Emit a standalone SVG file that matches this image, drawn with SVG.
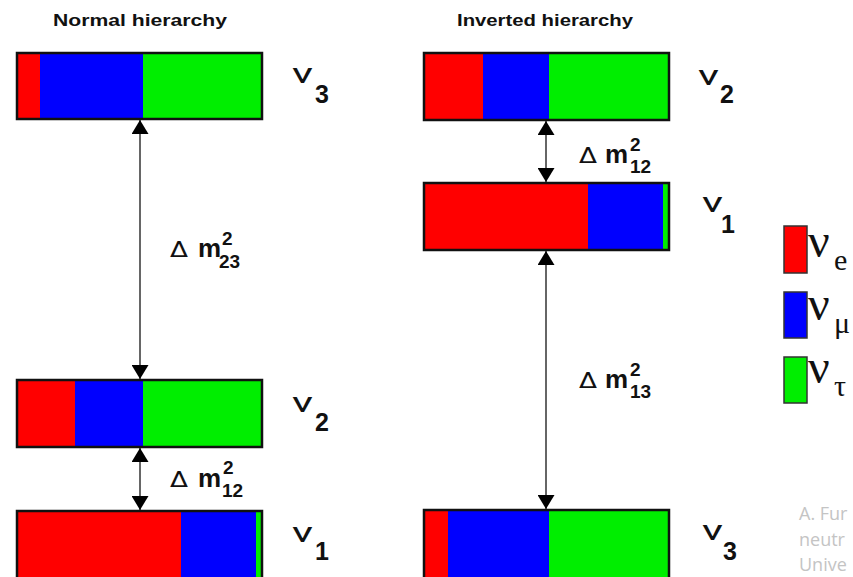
<svg xmlns="http://www.w3.org/2000/svg" width="853" height="577" viewBox="0 0 853 577">
<style>
.r{fill:#ff0000}.b{fill:#0000ff}.g{fill:#00ee00}
.box{fill:none;stroke:#111;stroke-width:2.5}
.title{font-family:"Liberation Sans",Arial,sans-serif;font-weight:bold;font-size:17px;fill:#111}
.nu{font-family:Roboto,"DejaVu Sans",sans-serif;font-size:28px;fill:#111}
.idx{font-family:"Liberation Sans",Arial,sans-serif;font-weight:bold;font-size:25px;fill:#111}
.dl{font-family:"DejaVu Sans","Liberation Sans",sans-serif;font-size:21px;fill:#111}
.m{font-family:"Liberation Sans",Arial,sans-serif;font-weight:bold;font-size:26px;fill:#111}
.ss{font-family:"Liberation Sans",Arial,sans-serif;font-weight:bold;font-size:19px;fill:#111}
.conn{stroke:#333;stroke-width:1.5;fill:none;marker-start:url(#ah);marker-end:url(#ah)}
.leg{stroke:#333;stroke-width:1.5}
.lnu{font-family:"Liberation Serif","Times New Roman",serif;font-size:48px;fill:#111}
.lsub{font-family:"Liberation Serif","Times New Roman",serif;font-size:30px;fill:#111}
.credit{font-family:"Open Sans","Liberation Sans",sans-serif;font-size:18px;fill:#c4c4c4}
</style>
<defs>
<marker id="ah" viewBox="0 0 14 17" refX="14" refY="8.5" markerWidth="14" markerHeight="17" markerUnits="userSpaceOnUse" orient="auto-start-reverse">
<path d="M0,0 L14,8.5 L0,17 z" fill="#000"/>
</marker>
</defs>

<text class="title" x="53" y="26" textLength="174" lengthAdjust="spacingAndGlyphs">Normal hierarchy</text>
<text class="title" x="457" y="26" textLength="176" lengthAdjust="spacingAndGlyphs">Inverted hierarchy</text>

<g id="connectors">
<line class="conn" x1="140" y1="120" x2="140" y2="379"/>
<line class="conn" x1="140" y1="448" x2="140" y2="510"/>
<line class="conn" x1="546" y1="121" x2="546" y2="182"/>
<line class="conn" x1="546" y1="251" x2="546" y2="509"/>
</g>

<g id="normal-nu3">
<rect class="r" x="17" y="53" width="23" height="66"/>
<rect class="b" x="40" y="53" width="103" height="66"/>
<rect class="g" x="143" y="53" width="119" height="66"/>
<rect class="box" x="17" y="53" width="245" height="66"/>
<text class="nu" x="292" y="83" textLength="21" lengthAdjust="spacingAndGlyphs">ν</text>
<text class="idx" x="315" y="103">3</text>
</g>

<g id="normal-nu2">
<rect class="r" x="17" y="380" width="58" height="67"/>
<rect class="b" x="75" y="380" width="68" height="67"/>
<rect class="g" x="143" y="380" width="119" height="67"/>
<rect class="box" x="17" y="380" width="245" height="67"/>
<text class="nu" x="292" y="412" textLength="21" lengthAdjust="spacingAndGlyphs">ν</text>
<text class="idx" x="315" y="431">2</text>
</g>

<g id="normal-nu1">
<rect class="r" x="17" y="511" width="164" height="70"/>
<rect class="b" x="181" y="511" width="75" height="70"/>
<rect class="g" x="256" y="511" width="6" height="70"/>
<rect class="box" x="17" y="511" width="245" height="70"/>
<text class="nu" x="292" y="542" textLength="21" lengthAdjust="spacingAndGlyphs">ν</text>
<text class="idx" x="315" y="560">1</text>
</g>

<g id="normal-dm23">
<text class="dl" x="170" y="257" textLength="18" lengthAdjust="spacingAndGlyphs">Δ</text>
<text class="m" x="198" y="257">m</text>
<text class="ss" x="222" y="245">2</text>
<text class="ss" x="219" y="268">23</text>
</g>
<g id="normal-dm12">
<text class="dl" x="170" y="487" textLength="18" lengthAdjust="spacingAndGlyphs">Δ</text>
<text class="m" x="198" y="487">m</text>
<text class="ss" x="223" y="474">2</text>
<text class="ss" x="222" y="497">12</text>
</g>

<g id="inverted-dm12">
<text class="dl" x="579" y="163" textLength="18" lengthAdjust="spacingAndGlyphs">Δ</text>
<text class="m" x="605" y="163">m</text>
<text class="ss" x="630" y="151">2</text>
<text class="ss" x="630" y="173">12</text>
</g>
<g id="inverted-dm13">
<text class="dl" x="579" y="388" textLength="18" lengthAdjust="spacingAndGlyphs">Δ</text>
<text class="m" x="605" y="388">m</text>
<text class="ss" x="630" y="376">2</text>
<text class="ss" x="630" y="398">13</text>
</g>

<g id="inverted-nu2">
<rect class="r" x="424" y="53" width="59" height="67"/>
<rect class="b" x="483" y="53" width="66" height="67"/>
<rect class="g" x="549" y="53" width="120" height="67"/>
<rect class="box" x="424" y="53" width="245" height="67"/>
<text class="nu" x="698" y="85" textLength="21" lengthAdjust="spacingAndGlyphs">ν</text>
<text class="idx" x="720" y="103">2</text>
</g>

<g id="inverted-nu1">
<rect class="r" x="424" y="183" width="164" height="67"/>
<rect class="b" x="588" y="183" width="75" height="67"/>
<rect class="g" x="663" y="183" width="6" height="67"/>
<rect class="box" x="424" y="183" width="245" height="67"/>
<text class="nu" x="702" y="212" textLength="21" lengthAdjust="spacingAndGlyphs">ν</text>
<text class="idx" x="721" y="233">1</text>
</g>

<g id="inverted-nu3">
<rect class="r" x="424" y="510" width="24" height="70"/>
<rect class="b" x="448" y="510" width="101" height="70"/>
<rect class="g" x="549" y="510" width="120" height="70"/>
<rect class="box" x="424" y="510" width="245" height="70"/>
<text class="nu" x="702" y="540" textLength="21" lengthAdjust="spacingAndGlyphs">ν</text>
<text class="idx" x="723" y="560">3</text>
</g>

<g id="legend">
<rect class="r leg" x="784" y="226" width="23" height="47"/>
<text class="lnu" x="808" y="257">ν</text>
<text class="lsub" x="834" y="270">e</text>
<rect class="b leg" x="784" y="292" width="23" height="46"/>
<text class="lnu" x="808" y="320">ν</text>
<text class="lsub" x="834" y="333">μ</text>
<rect class="g leg" x="784" y="357" width="23" height="46"/>
<text class="lnu" x="808" y="383">ν</text>
<text class="lsub" x="834" y="396">τ</text>
</g>

<g id="credit">
<text class="credit" x="799" y="520">A. Fur</text>
<text class="credit" x="799" y="546">neutr</text>
<text class="credit" x="799" y="571">Unive</text>
</g>
</svg>
